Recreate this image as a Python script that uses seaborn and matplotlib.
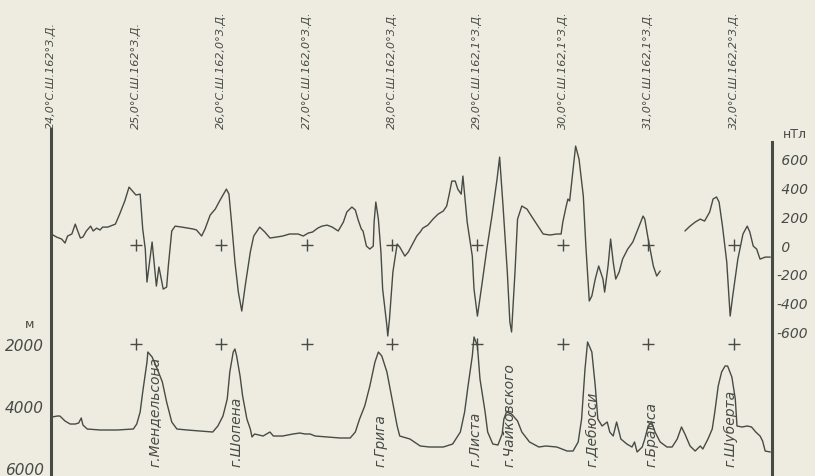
import numpy as np
import matplotlib.pyplot as plt
import seaborn as sns

sns.set_style("white")
plt.rcParams['font.family'] = ['DejaVu Sans']

bg = '#eeece1'
ink = '#464b45'

# --------------------------- data ---------------------------

# magnetic anomaly, nT (profile is broken between 31.1 and 31.4 deg N)
mag_lat_a = [24.01, 24.07, 24.13, 24.17, 24.20, 24.25, 24.29, 24.31, 24.35, 24.38,
             24.42, 24.47, 24.50, 24.54, 24.58, 24.61, 24.67, 24.76, 24.81, 24.87,
             24.92, 24.96, 25.00, 25.05, 25.08, 25.11, 25.13, 25.19, 25.24, 25.27,
             25.32, 25.36, 25.38, 25.42, 25.46, 25.54, 25.67, 25.71, 25.77, 25.81,
             25.87, 25.93, 25.98, 26.06, 26.09, 26.12, 26.16, 26.20, 26.24, 26.28,
             26.34, 26.38, 26.45, 26.51, 26.57, 26.65, 26.72, 26.80, 26.90, 26.96,
             27.02, 27.07, 27.13, 27.18, 27.24, 27.30, 27.37, 27.43, 27.47, 27.53,
             27.57, 27.60, 27.64, 27.66, 27.70, 27.74, 27.78, 27.79, 27.81, 27.84,
             27.87, 27.89, 27.94, 27.95, 27.97, 28.01, 28.06, 28.09, 28.15, 28.19,
             28.24, 28.29, 28.33, 28.36, 28.42, 28.48, 28.54, 28.60, 28.64, 28.67,
             28.70, 28.74, 28.77, 28.81, 28.83, 28.88, 28.94, 28.96, 29.00, 29.05,
             29.11, 29.17, 29.23, 29.26, 29.30, 29.35, 29.38, 29.40, 29.44, 29.47,
             29.52, 29.58, 29.64, 29.71, 29.77, 29.85, 29.93, 29.98, 30.00, 30.04,
             30.06, 30.08, 30.12, 30.15, 30.19, 30.24, 30.27, 30.31, 30.34, 30.38,
             30.42, 30.47, 30.49, 30.53, 30.56, 30.59, 30.62, 30.66, 30.70, 30.76,
             30.82, 30.88, 30.94, 30.96, 31.00, 31.06, 31.10, 31.14]
mag_nt_a = [77, 56, 42, 14, 63, 77, 146, 112, 49, 56,
            98, 132, 98, 118, 105, 125, 125, 146, 216, 307,
            404, 376, 349, 355, 112, -28, -258, 21, -286, -153,
            -307, -293, -146, 98, 132, 125, 112, 105, 63, 112,
            209, 251, 307, 390, 355, 160, -118, -328, -460, -286,
            -49, 63, 125, 91, 49, 56, 63, 77, 77, 63,
            84, 91, 118, 132, 139, 125, 98, 160, 230, 265,
            244, 181, 112, 98, -7, -28, -7, 160, 300, 181,
            -49, -307, -565, -634, -516, -188, 7, -14, -77, -49,
            7, 63, 91, 118, 139, 181, 216, 237, 272, 355,
            446, 446, 390, 355, 481, 160, -77, -307, -495, -286,
            -28, 202, 460, 613, 272, -188, -537, -606, -188, 181,
            272, 251, 195, 132, 77, 70, 77, 77, 160, 272,
            321, 307, 530, 690, 599, 342, -7, -390, -355, -237,
            -146, -237, -328, -146, 42, -118, -237, -188, -98, -28,
            21, 112, 202, 181, 42, -146, -216, -181]

mag_lat_b = [31.43, 31.49, 31.55, 31.61, 31.66, 31.72, 31.76, 31.80, 31.83, 31.87,
             31.92, 31.96, 31.99, 32.05, 32.11, 32.16, 32.19, 32.23, 32.27, 32.31,
             32.37, 32.43]
mag_nt_b = [98, 132, 160, 181, 167, 230, 321, 335, 300, 132,
            -118, -495, -355, -98, 77, 132, 91, -7, -28, -98,
            -84, -84]

# bathymetry, m
depth_lat = [24.02, 24.08, 24.11, 24.17, 24.23, 24.29, 24.33, 24.36, 24.38, 24.43,
             24.58, 24.78, 24.97, 25.01, 25.05, 25.08, 25.13, 25.14, 25.19, 25.25,
             25.31, 25.36, 25.42, 25.48, 25.60, 25.75, 25.90, 25.96, 26.02, 26.07,
             26.10, 26.14, 26.16, 26.18, 26.22, 26.25, 26.30, 26.34, 26.36, 26.39,
             26.49, 26.57, 26.61, 26.72, 26.84, 26.92, 26.98, 27.04, 27.10, 27.24,
             27.39, 27.51, 27.57, 27.62, 27.68, 27.74, 27.80, 27.84, 27.88, 27.94,
             28.00, 28.06, 28.09, 28.21, 28.33, 28.44, 28.60, 28.71, 28.80, 28.85,
             28.89, 28.94, 28.96, 29.00, 29.03, 29.09, 29.12, 29.18, 29.24, 29.29,
             29.31, 29.34, 29.40, 29.47, 29.52, 29.61, 29.72, 29.80, 29.93, 30.05,
             30.12, 30.18, 30.22, 30.26, 30.29, 30.34, 30.38, 30.41, 30.46, 30.52,
             30.55, 30.59, 30.63, 30.68, 30.75, 30.81, 30.84, 30.87, 30.93, 30.96,
             31.00, 31.04, 31.08, 31.14, 31.22, 31.28, 31.34, 31.39, 31.43, 31.49,
             31.55, 31.61, 31.64, 31.70, 31.75, 31.78, 31.82, 31.86, 31.90, 31.93,
             31.98, 32.02, 32.04, 32.10, 32.16, 32.21, 32.26, 32.31, 32.34, 32.37,
             32.43]
depth_m = [4355, 4323, 4323, 4484, 4581, 4581, 4548, 4387, 4613, 4742,
           4774, 4774, 4742, 4581, 4194, 3548, 2581, 2258, 2419, 2806,
           3226, 3871, 4516, 4742, 4774, 4806, 4839, 4645, 4323, 3774,
           2903, 2258, 2161, 2387, 3032, 3677, 4419, 4742, 5000, 4903,
           4968, 4839, 4968, 4968, 4903, 4871, 4903, 4903, 4968, 5000,
           5032, 5032, 4839, 4419, 4000, 3355, 2581, 2258, 2387, 2903,
           3774, 4645, 4968, 5065, 5290, 5323, 5323, 5226, 4839, 4194,
           3355, 2387, 1774, 2065, 3129, 4194, 4839, 5226, 5258, 4903,
           4419, 4194, 4258, 4484, 4839, 5161, 5323, 5290, 5323, 5452,
           5452, 5161, 4419, 2806, 1935, 2258, 3355, 4419, 4645, 4516,
           4839, 4968, 4516, 5065, 5226, 5323, 5161, 5484, 5323, 5065,
           4645, 4516, 4839, 5161, 5323, 5323, 5065, 4677, 4903, 5290,
           5452, 5290, 5387, 5065, 4742, 4194, 3355, 2903, 2710, 2710,
           3065, 3774, 4645, 4677, 4645, 4677, 4839, 4968, 5129, 5452,
           5484]

# station positions and their labels
station_lat = [24, 25, 26, 27, 28, 29, 30, 31, 32]
station_labels = ["24,0°С.Ш.162°З.Д.", "25,0°С.Ш.162°З.Д.", "26,0°С.Ш.162,0°З.Д.",
                  "27,0°С.Ш.162,0°З.Д.", "28,0°С.Ш.162,0°З.Д.", "29,0°С.Ш.162,1°З.Д.",
                  "30,0°С.Ш.162,1°З.Д.", "31,0°С.Ш.162,1°З.Д.", "32,0°С.Ш.162,2°З.Д."]
plus_lat = station_lat[1:]

# seamounts
mount_lat = [25.22, 26.18, 27.86, 28.97, 29.38, 30.35, 31.04, 31.96]
mount_names = ["г.Мендельсона", "г.Шопена", "г.Грига", "г.Листа",
               "г.Чайковского", "г.Дебюсси", "г.Брамса", "г.Шуберта"]

depth_ticks = [2000, 4000, 6000]
nt_ticks = [600, 400, 200, 0, -200, -400, -600]
nt_ticklabels = [" 600", " 400", " 200", " 0", "-200", "-400", "-600"]

# --------------------------- figure ---------------------------

fig = plt.figure(figsize=(8.15, 4.77), dpi=100, facecolor=bg)
ax = fig.add_axes([50.5 / 815, 0, (772 - 50.5) / 815, (477 - 130) / 477])
ax.set_facecolor('none')
ax2 = ax.twinx()
ax2.set_facecolor('none')

sns.lineplot(x=depth_lat, y=depth_m, ax=ax, color=ink, linewidth=1.0,
             sort=False, estimator=None)
sns.lineplot(x=mag_lat_a, y=mag_nt_a, ax=ax2, color=ink, linewidth=1.0,
             sort=False, estimator=None)
sns.lineplot(x=mag_lat_b, y=mag_nt_b, ax=ax2, color=ink, linewidth=1.0,
             sort=False, estimator=None)

# zero / 2000 m reference crosses
ax2.plot(plus_lat, [0] * len(plus_lat), ls='none', marker='+', ms=9, mew=1.0, color=ink)
ax.plot(plus_lat, [2000] * len(plus_lat), ls='none', marker='+', ms=9, mew=1.0, color=ink)

ax.set_xlim(24.0, 32.45)
ax.set_ylim(6258, -4936)
ax2.set_ylim(-1610, 809)

ax.set_xticks([])
ax.set_xlabel("")
ax.set_ylabel("")
ax2.set_ylabel("")

ax.set_yticks(depth_ticks)
ax.set_yticklabels([str(t) for t in depth_ticks], fontsize=11, style='italic', color=ink)
ax.tick_params(axis='y', length=0, pad=5)

ax2.set_yticks(nt_ticks)
ax2.set_yticklabels(nt_ticklabels, fontsize=10, style='italic', color=ink)
ax2.tick_params(axis='y', length=0, pad=3.5)

for s in ['top', 'bottom', 'right']:
    ax.spines[s].set_visible(False)
for s in ['top', 'bottom', 'left']:
    ax2.spines[s].set_visible(False)
ax.spines['left'].set_linewidth(2.2)
ax.spines['left'].set_color(ink)
ax2.spines['right'].set_linewidth(2.2)
ax2.spines['right'].set_color(ink)
ax2.spines['right'].set_bounds(-1610, 718)

# station coordinates on top
for lat, lab in zip(station_lat, station_labels):
    ax.text(lat, 1.003, lab, transform=ax.get_xaxis_transform(), rotation=90,
            ha='center', va='bottom', fontsize=8, style='italic', color=ink,
            clip_on=False)

# seamount names
for lat, name in zip(mount_lat, mount_names):
    ax.text(lat, 5950, name, rotation=90, ha='center', va='bottom',
            fontsize=10, style='italic', color=ink)

fig.text(30 / 815, 1 - 325 / 477, "м", ha='center', va='center', fontsize=9, color=ink)
fig.text(795 / 815, 1 - 135 / 477, "нТл", ha='center', va='center', fontsize=9, color=ink)

fig.savefig("out.png", dpi=100, facecolor=bg)
